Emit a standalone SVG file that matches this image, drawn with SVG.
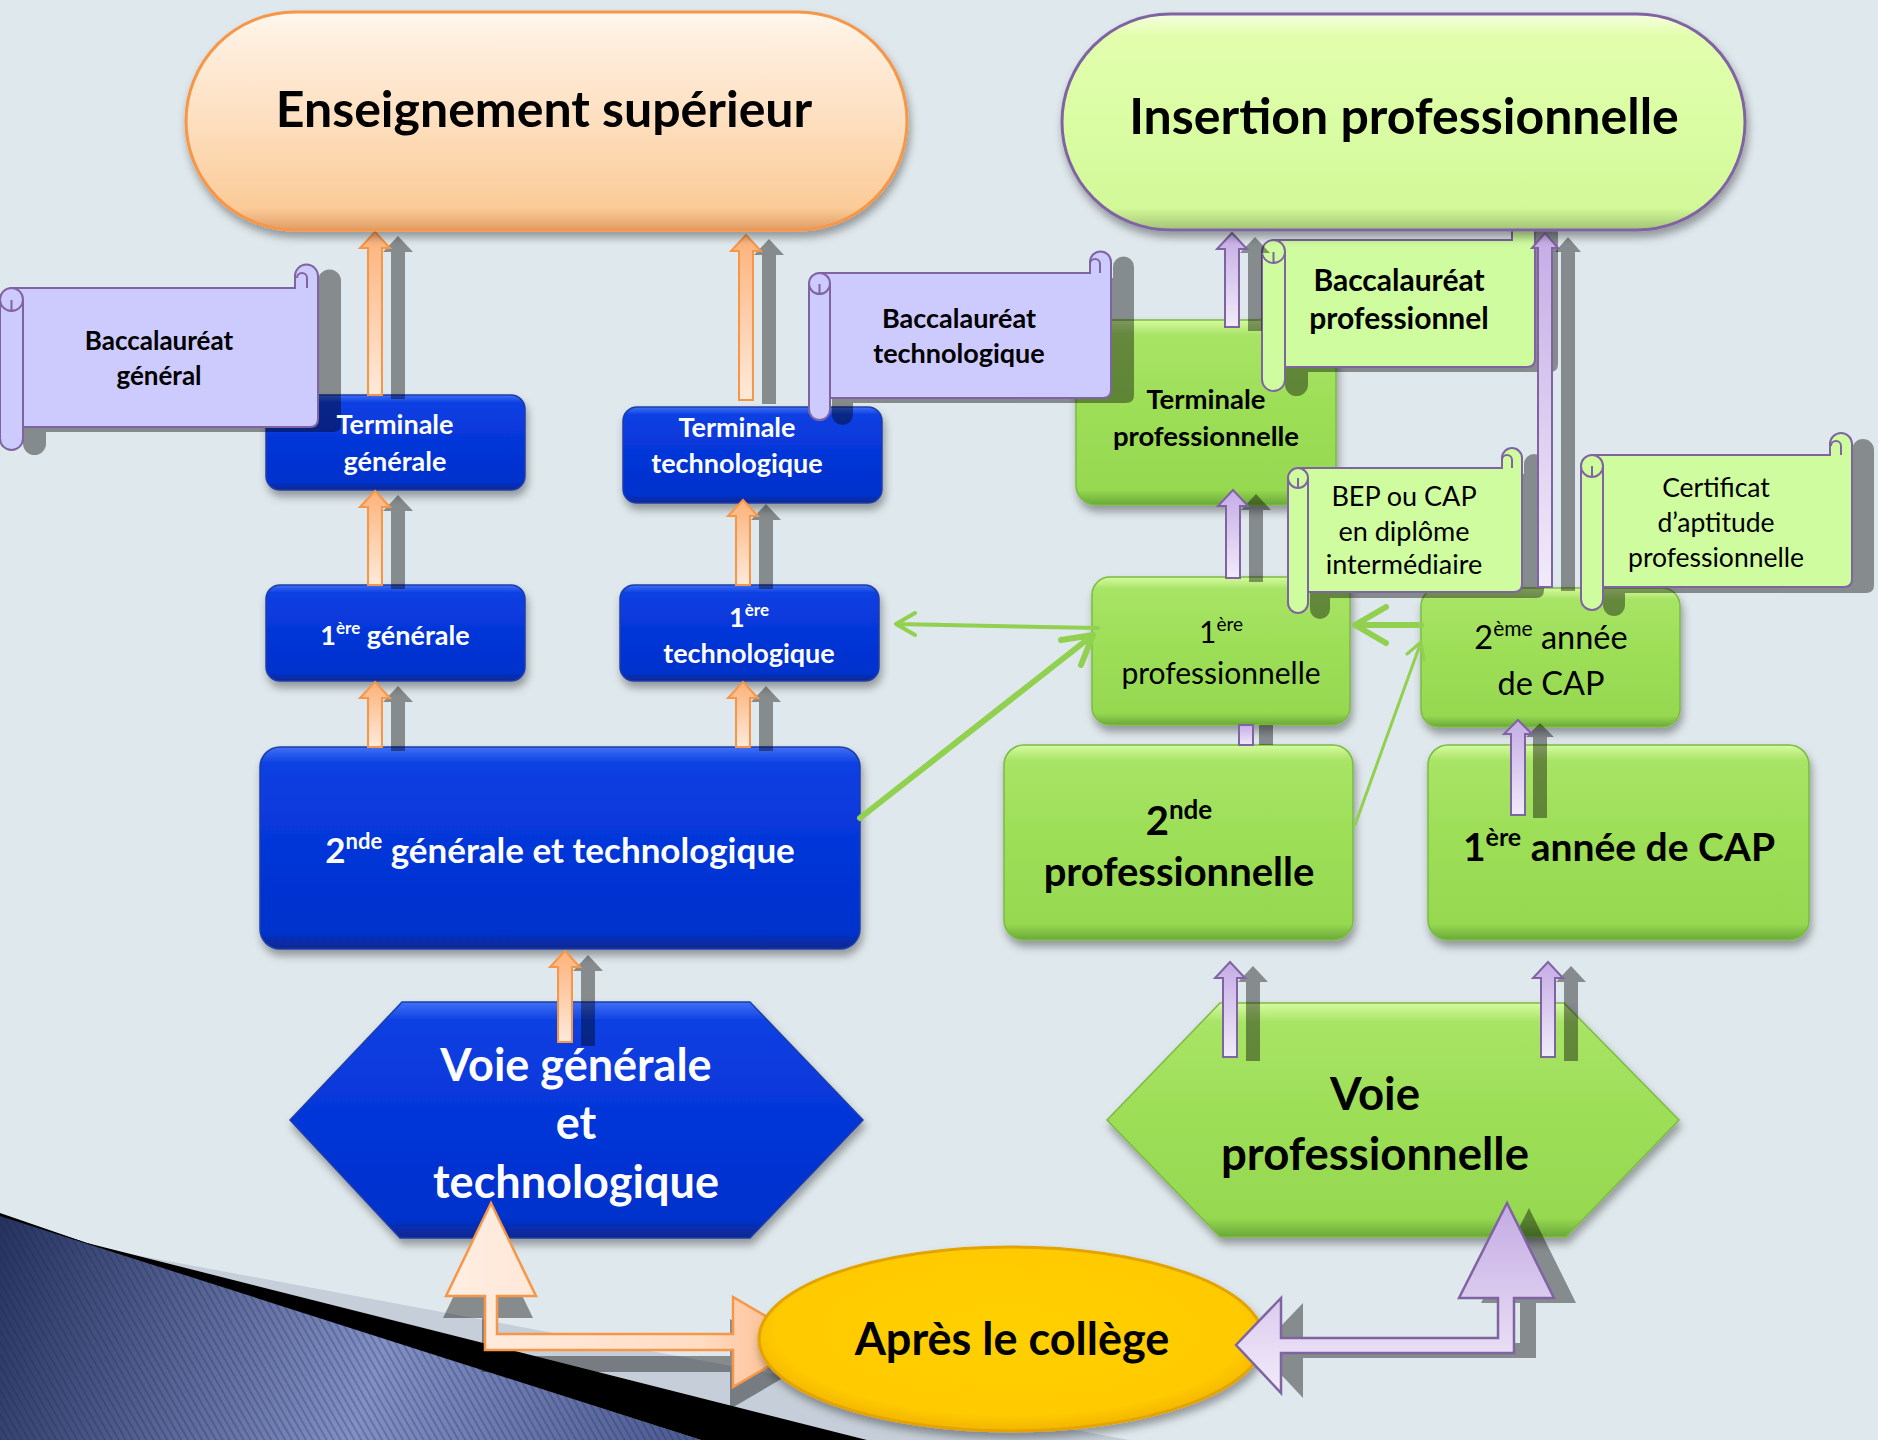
<svg xmlns="http://www.w3.org/2000/svg" width="1878" height="1440" viewBox="0 0 1878 1440">
<defs>
<style>
.t{font-family:Lato,"Liberation Sans",sans-serif;text-anchor:middle}
.b{font-weight:700}
.w{fill:#fff}
.k{fill:#000}
.oa{fill:url(#gOA);stroke:#f79646;stroke-width:2}
.pa{fill:url(#gPA);stroke:#8064a2;stroke-width:2}
.sa{fill:#000;opacity:.4}
.bx{fill:url(#gBlue);stroke:#1f3ea8;stroke-width:1.5}
.gx{fill:url(#gGreen);stroke:#7cba44;stroke-width:1.5}
.scL{fill:#cdcafd;stroke:#8064a2;stroke-width:2}
.scG{fill:#d0fca0;stroke:#8064a2;stroke-width:2}
.cur{fill:none;stroke:#8064a2;stroke-width:2}
.gl{fill:none;stroke:#92d050;stroke-linecap:round;stroke-linejoin:round}
</style>
<filter id="sh" x="-10%" y="-10%" width="125%" height="130%">
<feDropShadow dx="2" dy="6" stdDeviation="4" flood-color="#000" flood-opacity="0.35"/>
</filter>
<linearGradient id="gPeach" x1="0" y1="0" x2="0" y2="1">
<stop offset="0" stop-color="#fff8f0"/><stop offset="0.1" stop-color="#fff0e0"/><stop offset="0.5" stop-color="#fddfbf"/><stop offset="0.9" stop-color="#fbcb98"/><stop offset="1" stop-color="#e09e66"/>
</linearGradient>
<linearGradient id="gLime" x1="0" y1="0" x2="0" y2="1">
<stop offset="0" stop-color="#f6ffe0"/><stop offset="0.1" stop-color="#e2fead"/><stop offset="0.5" stop-color="#dafda4"/><stop offset="0.9" stop-color="#d2f898"/><stop offset="1" stop-color="#a2c276"/>
</linearGradient>
<linearGradient id="gBlue" x1="0" y1="0" x2="0" y2="1">
<stop offset="0" stop-color="#3f70f6"/><stop offset="0.08" stop-color="#0c40e2"/><stop offset="0.5" stop-color="#0535d8"/><stop offset="0.92" stop-color="#0431cc"/><stop offset="1" stop-color="#0a288c"/>
</linearGradient>
<linearGradient id="gGreen" x1="0" y1="0" x2="0" y2="1">
<stop offset="0" stop-color="#d6fba0"/><stop offset="0.08" stop-color="#a8e466"/><stop offset="0.5" stop-color="#9cde56"/><stop offset="0.92" stop-color="#96d850"/><stop offset="1" stop-color="#6aa838"/>
</linearGradient>
<radialGradient id="gGold" cx="0.5" cy="0.45" r="0.55">
<stop offset="0" stop-color="#ffd000"/><stop offset="0.85" stop-color="#ffca00"/><stop offset="1" stop-color="#f2b400"/>
</radialGradient>
<linearGradient id="gOA" x1="0" y1="0" x2="0" y2="1">
<stop offset="0" stop-color="#fdb27a"/><stop offset="1" stop-color="#fdeadc"/>
</linearGradient>
<linearGradient id="gPA" x1="0" y1="0" x2="0" y2="1">
<stop offset="0" stop-color="#c5ace6"/><stop offset="1" stop-color="#f1ebf9"/>
</linearGradient>
<linearGradient id="gBigO" x1="0" y1="0" x2="1" y2="0">
<stop offset="0" stop-color="#ffeee2"/><stop offset="0.7" stop-color="#ffdcc4"/><stop offset="1" stop-color="#fbb47e"/>
</linearGradient>
<linearGradient id="gBigP" x1="0" y1="0" x2="0" y2="1">
<stop offset="0" stop-color="#c4aae4"/><stop offset="1" stop-color="#f2ecf9"/>
</linearGradient>
<linearGradient id="gDeco" gradientUnits="userSpaceOnUse" x1="0" y1="1215" x2="700" y2="1440">
<stop offset="0" stop-color="#26325e"/><stop offset="0.55" stop-color="#8290c4"/><stop offset="1" stop-color="#4a5990"/>
</linearGradient>
<pattern id="stripes" width="6" height="6" patternUnits="userSpaceOnUse" patternTransform="rotate(-30)">
<line x1="1" y1="0" x2="1" y2="6" stroke="#1a2450" stroke-opacity="0.35" stroke-width="1.5"/>
</pattern>
</defs>

<rect width="1878" height="1440" fill="#dfe8ec"/>

<g id="decoration">
<polygon points="130,1254 1129,1440 867,1440" fill="#c6cfd9"/>
<polygon points="0,1215 701,1440 0,1440" fill="url(#gDeco)"/>
<polygon points="0,1215 701,1440 0,1440" fill="url(#stripes)"/>
<polygon points="0,1213 87,1243 867,1440 701,1440 0,1216" fill="#000"/>
</g>

<g id="boxes">
<g id="terminale-generale" filter="url(#sh)"><rect class="bx" x="266" y="395" width="259" height="95" rx="14"/></g>
<g id="premiere-generale" filter="url(#sh)"><rect class="bx" x="266" y="585" width="259" height="96" rx="14"/></g>
<g id="terminale-techno" filter="url(#sh)"><rect class="bx" x="623" y="407" width="259" height="96" rx="14"/></g>
<g id="premiere-techno" filter="url(#sh)"><rect class="bx" x="620" y="585" width="259" height="96" rx="14"/></g>
<g id="seconde-gt" filter="url(#sh)"><rect class="bx" x="260" y="747" width="600" height="202" rx="20"/></g>
<g id="voie-gt" filter="url(#sh)"><polygon class="bx" points="290,1120 402,1002 750,1002 863,1120 750,1238 400,1238"/></g>

<g id="terminale-pro" filter="url(#sh)"><rect class="gx" x="1076" y="320" width="260" height="185" rx="20"/></g>
<g id="premiere-pro" filter="url(#sh)"><rect class="gx" x="1092" y="577" width="258" height="148" rx="18"/></g>
<g id="deuxieme-cap" filter="url(#sh)"><rect class="gx" x="1421" y="588" width="259" height="139" rx="18"/></g>
<g id="seconde-pro" filter="url(#sh)"><rect class="gx" x="1004" y="745" width="349" height="195" rx="20"/></g>
<g id="premiere-cap" filter="url(#sh)"><rect class="gx" x="1428" y="745" width="381" height="195" rx="20"/></g>
<g id="voie-pro" filter="url(#sh)"><polygon class="gx" points="1107,1120 1220,1003 1564,1003 1679,1120 1566,1237 1220,1237"/></g>
</g>

<g id="scrolls">
<g id="bac-general">
<g opacity="0.4" transform="translate(23,5)"><path d="M11,288 H295 V276 A11.5,11.5 0 0 1 318,276 V419 Q318,427 310,427 H11 Z"/><rect x="0" y="288" width="23" height="162" rx="11.5"/></g>
<path class="scL" d="M11,288 H295 V276 A11.5,11.5 0 0 1 318,276 V419 Q318,427 310,427 H11 Z"/>
<path class="cur" d="M307,288 V278 A5,5 0 0 0 297,278"/>
<rect class="scL" x="0" y="288" width="23" height="162" rx="11.5"/>
<path class="cur" d="M0,299.5 A11.5,11.5 0 0 0 23,299.5 M11.5,311 V300"/>
</g>
<g id="bac-techno">
<g opacity="0.4" transform="translate(23,5)"><path d="M819,273 H1090 V262 A10.5,10.5 0 0 1 1111,262 V390 Q1111,398 1103,398 H819 Z"/><rect x="809" y="273" width="21" height="147" rx="10.5"/></g>
<path class="scL" d="M819,273 H1090 V262 A10.5,10.5 0 0 1 1111,262 V390 Q1111,398 1103,398 H819 Z"/>
<path class="cur" d="M1100,273 V264 A5,5 0 0 0 1090,264"/>
<rect class="scL" x="809" y="273" width="21" height="147" rx="10.5"/>
<path class="cur" d="M809,283.5 A10.5,10.5 0 0 0 830,283.5 M819.5,294 V284"/>
</g>
<g id="bac-pro">
<g opacity="0.4" transform="translate(23,5)"><path d="M1273,240 H1512 V228 A11.5,11.5 0 0 1 1535,228 V359 Q1535,367 1527,367 H1273 Z"/><rect x="1262" y="240" width="23" height="151" rx="11.5"/></g>
<path class="scG" d="M1273,240 H1512 V228 A11.5,11.5 0 0 1 1535,228 V359 Q1535,367 1527,367 H1273 Z"/>
<rect class="scG" x="1262" y="240" width="23" height="151" rx="11.5"/>
<path class="cur" d="M1262,251.5 A11.5,11.5 0 0 0 1285,251.5 M1273.5,263 V252"/>
</g>
<g id="bep-cap">
<g opacity="0.4" transform="translate(22,6)"><path d="M1298,468 H1502 V458 A10,10 0 0 1 1522,458 V584 Q1522,592 1514,592 H1298 Z"/><rect x="1288" y="468" width="20" height="145" rx="10"/></g>
<path class="scG" d="M1298,468 H1502 V458 A10,10 0 0 1 1522,458 V584 Q1522,592 1514,592 H1298 Z"/>
<path class="cur" d="M1512,468 V460 A5,5 0 0 0 1502,460"/>
<rect class="scG" x="1288" y="468" width="20" height="145" rx="10"/>
<path class="cur" d="M1288,478 A10,10 0 0 0 1308,478 M1298,488 V478"/>
</g>
<g id="cap-certificat">
<g opacity="0.4" transform="translate(22,6)"><path d="M1592,455 H1830 V444 A11,11 0 0 1 1852,444 V579 Q1852,587 1844,587 H1592 Z"/><rect x="1581" y="455" width="22" height="155" rx="11"/></g>
<path class="scG" d="M1592,455 H1830 V444 A11,11 0 0 1 1852,444 V579 Q1852,587 1844,587 H1592 Z"/>
<path class="cur" d="M1841,455 V446 A5,5 0 0 0 1831,446"/>
<rect class="scG" x="1581" y="455" width="22" height="155" rx="11"/>
<path class="cur" d="M1581,466 A11,11 0 0 0 1603,466 M1592,477 V466"/>
</g>
</g>

<g id="connectors">
<g id="orange-arrows">
<path class="sa" transform="translate(23,4)" d="M375,232 L390,248 L382,248 L382,395 L368,395 L368,248 L360,248 Z"/>
<path class="oa" d="M375,232 L390,248 L382,248 L382,395 L368,395 L368,248 L360,248 Z"/>
<path class="sa" transform="translate(23,4)" d="M375,491 L390,507 L382,507 L382,585 L368,585 L368,507 L360,507 Z"/>
<path class="oa" d="M375,491 L390,507 L382,507 L382,585 L368,585 L368,507 L360,507 Z"/>
<path class="sa" transform="translate(23,4)" d="M375,682 L390,698 L382,698 L382,747 L368,747 L368,698 L360,698 Z"/>
<path class="oa" d="M375,682 L390,698 L382,698 L382,747 L368,747 L368,698 L360,698 Z"/>
<path class="sa" transform="translate(23,4)" d="M746,235 L761,251 L753,251 L753,400 L739,400 L739,251 L731,251 Z"/>
<path class="oa" d="M746,235 L761,251 L753,251 L753,400 L739,400 L739,251 L731,251 Z"/>
<path class="sa" transform="translate(23,4)" d="M743,500 L758,516 L750,516 L750,585 L736,585 L736,516 L728,516 Z"/>
<path class="oa" d="M743,500 L758,516 L750,516 L750,585 L736,585 L736,516 L728,516 Z"/>
<path class="sa" transform="translate(23,4)" d="M743,682 L758,698 L750,698 L750,747 L736,747 L736,698 L728,698 Z"/>
<path class="oa" d="M743,682 L758,698 L750,698 L750,747 L736,747 L736,698 L728,698 Z"/>
<path class="sa" transform="translate(23,4)" d="M565,951 L580,967 L572,967 L572,1042 L558,1042 L558,967 L550,967 Z"/>
<path class="oa" d="M565,951 L580,967 L572,967 L572,1042 L558,1042 L558,967 L550,967 Z"/>
</g>
<g id="purple-arrows">
<path class="sa" transform="translate(23,4)" d="M1232,233 L1247,249 L1239,249 L1239,327 L1225,327 L1225,249 L1217,249 Z"/>
<path class="pa" d="M1232,233 L1247,249 L1239,249 L1239,327 L1225,327 L1225,249 L1217,249 Z"/>
<path class="sa" transform="translate(23,4)" d="M1545,233 L1558,248 L1552,248 L1552,587 L1538,587 L1538,248 L1532,248 Z"/>
<path class="pa" d="M1545,233 L1558,248 L1552,248 L1552,587 L1538,587 L1538,248 L1532,248 Z"/>
<path class="sa" transform="translate(23,4)" d="M1233,490 L1248,506 L1240,506 L1240,578 L1226,578 L1226,506 L1218,506 Z"/>
<path class="pa" d="M1233,490 L1248,506 L1240,506 L1240,578 L1226,578 L1226,506 L1218,506 Z"/>
<path class="sa" transform="translate(20,0)" d="M1239,725 L1253,725 L1253,745 L1239,745 Z"/>
<path class="pa" d="M1239,725 L1253,725 L1253,745 L1239,745 Z"/>
<path class="sa" transform="translate(22,3)" d="M1518,720 L1532,734 L1525,734 L1525,815 L1511,815 L1511,734 L1504,734 Z"/>
<path class="pa" d="M1518,720 L1532,734 L1525,734 L1525,815 L1511,815 L1511,734 L1504,734 Z"/>
<path class="sa" transform="translate(23,4)" d="M1230,962 L1245,978 L1237,978 L1237,1057 L1223,1057 L1223,978 L1215,978 Z"/>
<path class="pa" d="M1230,962 L1245,978 L1237,978 L1237,1057 L1223,1057 L1223,978 L1215,978 Z"/>
<path class="sa" transform="translate(23,4)" d="M1548,962 L1563,978 L1555,978 L1555,1057 L1541,1057 L1541,978 L1533,978 Z"/>
<path class="pa" d="M1548,962 L1563,978 L1555,978 L1555,1057 L1541,1057 L1541,978 L1533,978 Z"/>
</g>
<g id="green-arrows">
<path class="gl" stroke-width="6" d="M860,818 L1093,635 M1061,640 L1093,635 L1081,665"/>
<path class="gl" stroke="#9bbb59" stroke-width="4" d="M1098,628 L896,624 M915,613 L896,624 L915,635"/>
<path class="gl" stroke-width="6" d="M1421,625 L1355,625 M1386,607 L1355,625 L1386,643"/>
<path class="gl" stroke-width="3" d="M1355,825 L1421,642 M1407,654 L1421,642 L1424,660"/>
</g>
<g id="bottom-orange">
<path class="sa" transform="translate(-3,22)" d="M491,1203 L536,1296 L497,1296 L497,1334 L733,1334 L733,1297 L810,1342 L733,1387 L733,1350 L485,1350 L485,1296 L446,1296 Z"/>
<path fill="url(#gBigO)" stroke="#f79646" stroke-width="2.5" d="M491,1203 L536,1296 L497,1296 L497,1334 L733,1334 L733,1297 L810,1342 L733,1387 L733,1350 L485,1350 L485,1296 L446,1296 Z"/>
</g>
</g>

<g id="apres-college">
<g filter="url(#sh)"><ellipse cx="1011" cy="1339" rx="252" ry="92" fill="url(#gGold)" stroke="#e3a300" stroke-width="3"/></g>
<text class="t b k" x="1012" y="1355" font-size="45">Après le collège</text>
</g>

<g id="bottom-purple">
<path class="sa" transform="translate(22,5)" d="M1507,1203 L1554,1298 L1514,1298 L1514,1353 L1281,1353 L1281,1393 L1236,1345 L1281,1298 L1281,1338 L1498,1338 L1498,1298 L1459,1298 Z"/>
<path fill="url(#gBigP)" stroke="#8064a2" stroke-width="2.5" d="M1507,1203 L1554,1298 L1514,1298 L1514,1353 L1281,1353 L1281,1393 L1236,1345 L1281,1298 L1281,1338 L1498,1338 L1498,1298 L1459,1298 Z"/>
</g>

<g id="enseignement-superieur">
<g filter="url(#sh)"><rect x="186" y="12" width="721" height="218" rx="109" fill="url(#gPeach)" stroke="#f79646" stroke-width="3"/></g>
<text class="t b k" x="544" y="127" font-size="50">Enseignement supérieur</text>
</g>
<g id="insertion-professionnelle">
<g filter="url(#sh)"><rect x="1062" y="14" width="683" height="216" rx="108" fill="url(#gLime)" stroke="#8064a2" stroke-width="3"/></g>
<text class="t b k" x="1404" y="134" font-size="50">Insertion professionnelle</text>
</g>

<g id="labels">
<text class="t b k" font-size="26"><tspan x="159" y="350">Baccalauréat</tspan><tspan x="159" y="385">général</tspan></text>
<text class="t b w" font-size="27"><tspan x="395" y="434">Terminale</tspan><tspan x="395" y="471">générale</tspan></text>
<text class="t b w" x="395" y="645" font-size="27">1<tspan font-size="17" dy="-11">ère</tspan><tspan dy="11"> générale</tspan></text>
<text class="t b w" font-size="27"><tspan x="737" y="437">Terminale</tspan><tspan x="737" y="473">technologique</tspan></text>
<text class="t b w" x="749" y="627" font-size="27">1<tspan font-size="17" dy="-11">ère</tspan></text>
<text class="t b w" x="749" y="663" font-size="27">technologique</text>
<text class="t b w" x="560" y="863" font-size="35">2<tspan font-size="22" dy="-14">nde</tspan><tspan dy="14"> générale et technologique</tspan></text>
<text class="t b w" font-size="45"><tspan x="576" y="1081">Voie générale</tspan><tspan x="576" y="1139">et</tspan><tspan x="576" y="1198">technologique</tspan></text>
<text class="t b k" font-size="27"><tspan x="959" y="328">Baccalauréat</tspan><tspan x="959" y="363">technologique</tspan></text>
<text class="t b k" font-size="27.5"><tspan x="1206" y="409">Terminale</tspan><tspan x="1206" y="446">professionnelle</tspan></text>
<text class="t b k" font-size="30"><tspan x="1399" y="291">Baccalauréat</tspan><tspan x="1399" y="329">professionnel</tspan></text>
<text class="t k" font-size="27"><tspan x="1404" y="506">BEP ou CAP</tspan><tspan x="1404" y="541">en diplôme</tspan><tspan x="1404" y="574">intermédiaire</tspan></text>
<text class="t k" font-size="26.5"><tspan x="1716" y="497">Certificat</tspan><tspan x="1716" y="532">d’aptitude</tspan><tspan x="1716" y="567">professionnelle</tspan></text>
<text class="t k" x="1221" y="643" font-size="30">1<tspan font-size="19" dy="-12">ère</tspan></text>
<text class="t k" x="1221" y="684" font-size="30">professionnelle</text>
<text class="t k" x="1551" y="649" font-size="32.5">2<tspan font-size="21" dy="-13">ème</tspan><tspan dy="13"> année</tspan></text>
<text class="t k" x="1551" y="695" font-size="32.5">de CAP</text>
<text class="t b k" x="1179" y="835" font-size="40">2<tspan font-size="26" dy="-16">nde</tspan></text>
<text class="t b k" x="1179" y="886" font-size="40">professionnelle</text>
<text class="t b k" x="1619" y="861" font-size="39">1<tspan font-size="25" dy="-15">ère</tspan><tspan dy="15"> année de CAP</tspan></text>
<text class="t b k" font-size="45.5"><tspan x="1375" y="1110">Voie</tspan><tspan x="1375" y="1170">professionnelle</tspan></text>
</g>
</svg>
